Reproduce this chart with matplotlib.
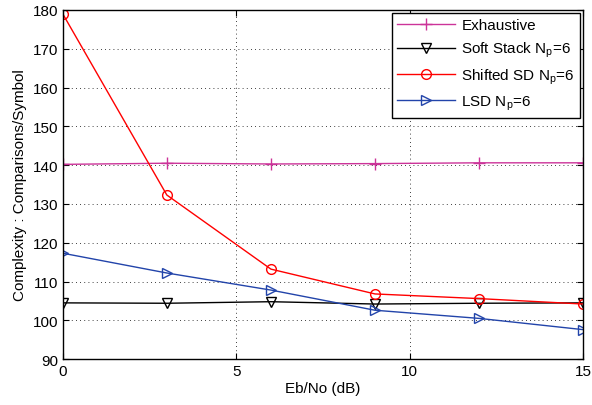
import matplotlib
matplotlib.use('Agg')
import matplotlib.pyplot as plt

plt.rcParams['font.family'] = ['Liberation Sans', 'DejaVu Sans']
plt.rcParams['mathtext.fontset'] = 'custom'
plt.rcParams['mathtext.rm'] = 'Liberation Sans'
plt.rcParams['mathtext.it'] = 'Liberation Sans'

# Eb/No points (dB)
snr = [0, 3, 6, 9, 12, 15]

# complexity values
exhaustive = [140.2, 140.5, 140.3, 140.4, 140.6, 140.6]
soft_stack = [104.5, 104.4, 104.8, 104.2, 104.4, 104.5]
shifted_sd = [179.0, 132.3, 113.2, 106.8, 105.6, 104.2]
lsd = [117.3, 112.2, 107.8, 102.6, 100.5, 97.6]

fig = plt.figure(figsize=(5.92, 4.06), dpi=100)
ax = fig.add_axes([0.106, 0.113, 0.879, 0.86])

ax.plot(snr, exhaustive, color='#cc3399', marker='+', ms=8, lw=1, mfc='none',
        label='Exhaustive')
ax.plot(snr, soft_stack, color='black', marker='v', ms=7, lw=1, mfc='none',
        label='Soft Stack N$_\\mathrm{p}$=6')
ax.plot(snr, shifted_sd, color='#ff0000', marker='o', ms=7, lw=1, mfc='none',
        label='Shifted SD N$_\\mathrm{p}$=6')
ax.plot(snr, lsd, color='#2244aa', marker='>', ms=7, lw=1, mfc='none',
        label='LSD N$_\\mathrm{p}$=6')

ax.set_xlim(0, 15)
ax.set_ylim(90, 180)
ax.set_xticks([0, 5, 10, 15])
ax.set_yticks(range(90, 181, 10))
ax.grid(True, color='black', linestyle=(0, (1, 4)), linewidth=0.6)
ax.tick_params(direction='in', labelsize=11, top=True, right=True, length=4)
for s in ax.spines.values():
    s.set_linewidth(1)

ax.set_xlabel('Eb/No (dB)', fontsize=11, labelpad=2)
ax.set_ylabel('Complexity : Comparisons/Symbol', fontsize=11, labelpad=4)

leg = ax.legend(loc='upper right', fontsize=11, fancybox=False, framealpha=1,
                edgecolor='black', borderaxespad=0.2, handlelength=3.8,
                labelspacing=0.5, borderpad=0.35, handletextpad=0.4)
leg.get_frame().set_linewidth(1)

fig.savefig('out.png', dpi=100)
